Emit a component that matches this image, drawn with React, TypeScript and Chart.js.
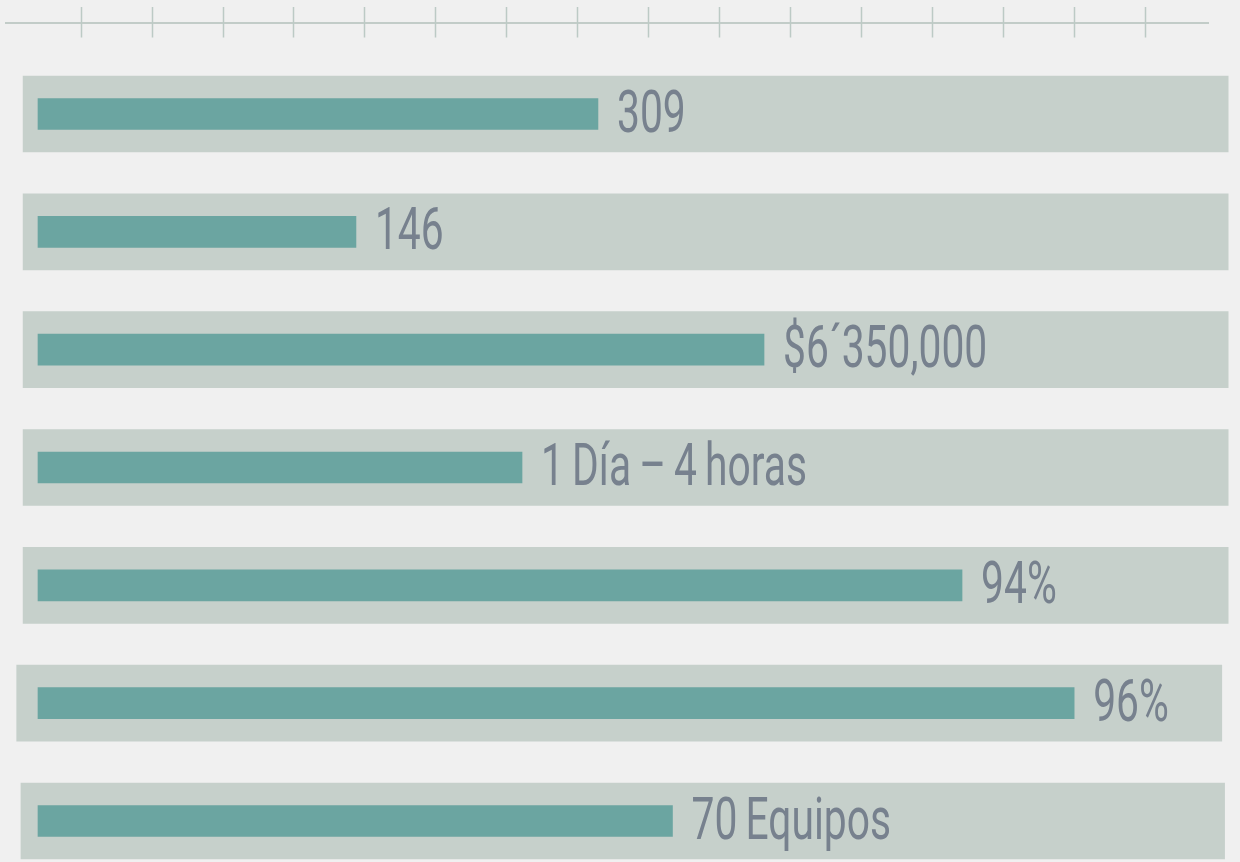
import { useEffect, useRef } from "react";
import { Chart, registerables } from "chart.js";

Chart.register(...registerables);

// Row value labels (also used as categories)
const valueLabels = [
  "309",
  "146",
  "$6´350,000",
  "1 Día – 4 horas",
  "94%",
  "96%",
  "70 Equipos",
];

// Bar lengths, in axis-tick units
const barValues = [7.89, 4.48, 10.23, 6.82, 13.02, 14.6, 8.94];

// Background track extents per row, in axis-tick units
const trackStart = [-0.21, -0.21, -0.21, -0.21, -0.21, -0.3, -0.24];
const trackEnd = [16.77, 16.77, 16.77, 16.77, 16.77, 16.68, 16.72];

// Tick marks along the top axis
const axisTicks = [0.6, 1.6, 2.6, 3.6, 4.6, 5.6, 6.6, 7.6, 8.6, 9.6, 10.6, 11.6, 12.6, 13.6, 14.6, 15.6];

const X_MIN = -0.465;
const X_MAX = 16.5;

const BG = "#f0f0f0";
const TRACK = "#c6d0cb";
const BAR = "#6ba5a1";
const TEXT = "#77818e";
const AXIS = "#b3c0bb";

const axisPlugin = {
  id: "topAxis",
  beforeDatasetsDraw(chart: any) {
    const { ctx, chartArea, scales } = chart;
    const xs = scales.x;
    ctx.save();
    ctx.strokeStyle = AXIS;
    ctx.lineWidth = 1.5;
    ctx.beginPath();
    ctx.moveTo(chartArea.left, 23);
    ctx.lineTo(chartArea.right, 23);
    ctx.stroke();
    ctx.strokeStyle = "#bccac5";
    axisTicks.forEach((t) => {
      const px = Math.round(xs.getPixelForValue(t)) + 0.5;
      ctx.beginPath();
      ctx.moveTo(px, 7);
      ctx.lineTo(px, 37.5);
      ctx.stroke();
    });
    ctx.restore();
  },
};

const labelPlugin = {
  id: "barLabels",
  afterDatasetsDraw(chart: any) {
    const { ctx, scales } = chart;
    const xs = scales.x;
    const ys = scales.y;
    ctx.save();
    ctx.fillStyle = TEXT;
    ctx.font = "400 60px Roboto";
    ctx.textBaseline = "alphabetic";
    ctx.textAlign = "left";
    try {
      (ctx as any).wordSpacing = "-3px";
    } catch (e) {}
    valueLabels.forEach((label, i) => {
      const x = xs.getPixelForValue(barValues[i]) + 19;
      const y = ys.getPixelForValue(i) + 17.5;
      ctx.save();
      ctx.translate(x, y);
      ctx.scale(0.68, 1);
      ctx.fillText(label, 0, 0);
      ctx.restore();
    });
    ctx.restore();
  },
};

export default function App() {
  const ref = useRef<HTMLCanvasElement | null>(null);

  useEffect(() => {
    document.body.style.margin = "0";
    document.body.style.background = BG;
    const canvas = ref.current;
    if (!canvas) return;
    const chart = new Chart(canvas, {
      type: "bar",
      data: {
        labels: valueLabels,
        datasets: [
          {
            label: "track",
            data: trackStart.map((s, i) => [s, trackEnd[i]]) as any,
            backgroundColor: TRACK,
            barThickness: 76,
            grouped: false,
            order: 2,
            clip: false as any,
          },
          {
            label: "value",
            data: barValues,
            backgroundColor: BAR,
            barThickness: 31,
            grouped: false,
            order: 1,
            clip: false as any,
          },
        ],
      },
      options: {
        indexAxis: "y",
        animation: false,
        responsive: false,
        devicePixelRatio: 1,
        layout: { padding: { left: 5, right: 31, top: 114, bottom: 41 } },
        plugins: {
          legend: { display: false },
          tooltip: { enabled: false },
        },
        scales: {
          x: {
            type: "linear",
            min: X_MIN,
            max: X_MAX,
            display: false,
          },
          y: {
            type: "category",
            offset: false,
            display: false,
          },
        },
      },
      plugins: [axisPlugin, labelPlugin],
    });
    return () => chart.destroy();
  }, []);

  return (
    <div
      style={{
        position: "absolute",
        left: 0,
        top: 0,
        width: 1240,
        height: 862,
        background: BG,
      }}
    >
      <canvas ref={ref} width={1240} height={862} style={{ display: "block" }} />
    </div>
  );
}
